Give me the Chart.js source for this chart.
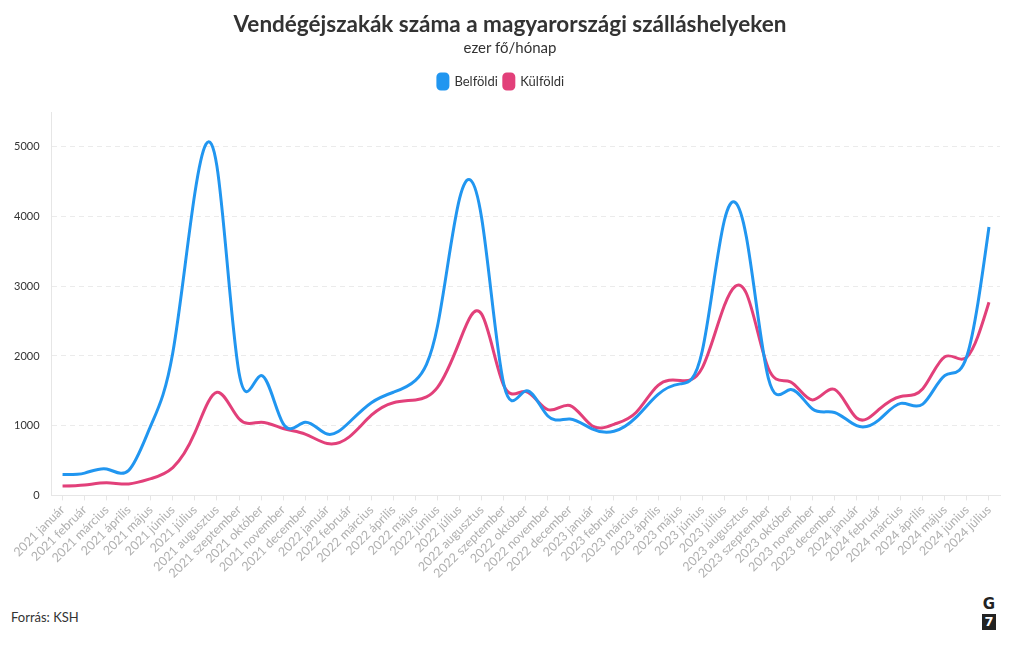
<!DOCTYPE html>
<html lang="hu">
<head>
<meta charset="utf-8">
<title>Vendégéjszakák</title>
<script src="https://cdn.jsdelivr.net/npm/chart.js@4.4.1/dist/chart.umd.min.js"></script>
<style>
  body { margin: 0; background: #fff; font-family: Lato, sans-serif; overflow: hidden; }
  #wrap { position: relative; width: 1020px; height: 650px; }
  .title { position: absolute; left: 0; top: 10px; width: 1020px; text-align: center; font-size: 22.5px; line-height: 27px; font-weight: bold; color: #333; }
  .subtitle { position: absolute; left: 0; top: 38px; width: 1020px; text-align: center; font-size: 15px; line-height: 18px; color: #333; }
  #chartBox { position: absolute; left: 0; top: 0; width: 1020px; height: 583px; }
  .source { position: absolute; left: 11px; top: 609px; font-size: 13px; color: #333; }
  .logo { position: absolute; left: 982px; top: 597px; width: 14px; text-align: center; font-family: "DejaVu Sans", sans-serif; font-weight: bold; }
  .logo .g { font-size: 15px; line-height: 15px; color: #222; }
  .logo .seven { margin-top: 2px; background: #222; color: #fff; font-size: 13px; line-height: 16px; }
</style>
</head>
<body>
<div id="wrap">
  <div id="chartBox"><canvas id="vendegChart"></canvas></div>
  <div class="title">Vendégéjszakák száma a magyarországi szálláshelyeken</div>
  <div class="subtitle">ezer fő/hónap</div>
  <div class="source">Forrás: KSH</div>
  <div class="logo"><div class="g">G</div><div class="seven">7</div></div>
</div>
<script>
// months shown on the x axis
const labels = [
  '2021 január', '2021 február', '2021 március', '2021 április', '2021 május', '2021 június',
  '2021 július', '2021 augusztus', '2021 szeptember', '2021 október', '2021 november', '2021 december',
  '2022 január', '2022 február', '2022 március', '2022 április', '2022 május', '2022 június',
  '2022 július', '2022 augusztus', '2022 szeptember', '2022 október', '2022 november', '2022 december',
  '2023 január', '2023 február', '2023 március', '2023 április', '2023 május', '2023 június',
  '2023 július', '2023 augusztus', '2023 szeptember', '2023 október', '2023 november', '2023 december',
  '2024 január', '2024 február', '2024 március', '2024 április', '2024 május', '2024 június',
  '2024 július'
];

// ezer fő/hónap
const belfoldi = [
  300, 320, 380, 360, 1000, 2050, 4340, 4720, 1760, 1720, 1030, 1050,
  880, 1050, 1330, 1480, 1650, 2430, 4260, 3980, 1600, 1500, 1140, 1095,
  955, 920, 1120, 1450, 1600, 2070, 3940, 3710, 1680, 1520, 1240, 1190,
  1000, 1080, 1320, 1310, 1720, 2000, 3850
];
const kulfoldi = [
  135, 150, 180, 165, 240, 400, 900, 1480, 1100, 1050, 960, 880,
  745, 840, 1150, 1330, 1370, 1550, 2210, 2600, 1580, 1490, 1230, 1290,
  1000, 1020, 1190, 1580, 1650, 1830, 2720, 2900, 1820, 1630, 1370, 1520,
  1110, 1230, 1420, 1530, 1990, 1985, 2770
];

const yTicks = [0, 1000, 2000, 3000, 4000, 5000];

const blue = '#2196f0';
const pink = '#e2407a';

// the original uses a natural cubic spline, so swap chart.js's control points for one
const naturalSpline = {
  id: 'naturalSpline',
  beforeDatasetDraw(chart, args) {
    const meta = args.meta;
    meta.dataset.updateControlPoints(chart.chartArea, 'x');
    const pts = meta.data;
    const n = pts.length - 1;
    if (n < 2) return;
    const h = pts[1].x - pts[0].x;
    // solve M[i-1] + 4M[i] + M[i+1] = 6(y[i+1] - 2y[i] + y[i-1]) / h^2, M[0] = M[n] = 0
    const M = new Array(n + 1).fill(0);
    const c = new Array(n + 1).fill(0);
    const d = new Array(n + 1).fill(0);
    for (let i = 1; i < n; i++) {
      const rhs = 6 * (pts[i + 1].y - 2 * pts[i].y + pts[i - 1].y) / (h * h);
      const m = 4 - c[i - 1];
      c[i] = 1 / m;
      d[i] = (rhs - d[i - 1]) / m;
    }
    for (let i = n - 1; i > 0; i--) {
      M[i] = d[i] - c[i] * M[i + 1];
    }
    for (let i = 0; i < n; i++) {
      const slope = (pts[i + 1].y - pts[i].y) / h;
      const d0 = slope - h * (2 * M[i] + M[i + 1]) / 6;
      const d1 = slope + h * (M[i] + 2 * M[i + 1]) / 6;
      pts[i].cp2x = pts[i].x + h / 3;
      pts[i].cp2y = pts[i].y + d0 * h / 3;
      pts[i + 1].cp1x = pts[i + 1].x - h / 3;
      pts[i + 1].cp1y = pts[i + 1].y - d1 * h / 3;
    }
  }
};

// push the plot down a little under the legend
const legendGap = {
  id: 'legendGap',
  beforeInit(chart) {
    const fit = chart.legend.fit;
    chart.legend.fit = function () {
      fit.call(this);
      this.height += 13;
    };
  }
};

const ctx = document.getElementById('vendegChart').getContext('2d');

const myChart = new Chart(ctx, {
  type: 'line',
  data: {
    labels: labels,
    datasets: [
      {
        label: 'Belföldi',
        data: belfoldi,
        borderColor: blue,
        backgroundColor: blue,
        borderWidth: 3,
        pointRadius: 0,
        tension: 0.4
      },
      {
        label: 'Külföldi',
        data: kulfoldi,
        borderColor: pink,
        backgroundColor: pink,
        borderWidth: 3,
        pointRadius: 0,
        tension: 0.4
      }
    ]
  },
  plugins: [naturalSpline, legendGap],
  options: {
    responsive: true,
    maintainAspectRatio: false,
    animation: false,
    layout: { padding: { left: 2, right: 20, top: 68, bottom: 0 } },
    plugins: {
      legend: {
        position: 'top',
        labels: {
          boxWidth: 10,
          boxHeight: 15,
          useBorderRadius: true,
          borderRadius: 3,
          padding: 6,
          color: '#333',
          font: { family: 'Lato', size: 13 }
        }
      },
      tooltip: { enabled: false }
    },
    scales: {
      x: {
        offset: true,
        grid: { drawOnChartArea: false, drawTicks: true, tickLength: 5, color: '#e6e6e6' },
        border: { color: '#e6e6e6' },
        ticks: {
          autoSkip: false,
          maxRotation: 45,
          minRotation: 45,
          color: '#b0b0b0',
          padding: 2,
          font: { family: 'Lato', size: 12.5 }
        }
      },
      y: {
        min: 0,
        max: 5500,
        afterBuildTicks: (axis) => { axis.ticks = yTicks.map(v => ({ value: v })); },
        grid: { color: '#ebebeb', drawTicks: false },
        border: { color: '#e6e6e6', dash: [5, 4] },
        ticks: {
          color: '#333',
          padding: 12,
          font: { family: 'Lato', size: 11 },
          callback: (v) => String(v)
        }
      }
    }
  }
});
</script>
</body>
</html>
